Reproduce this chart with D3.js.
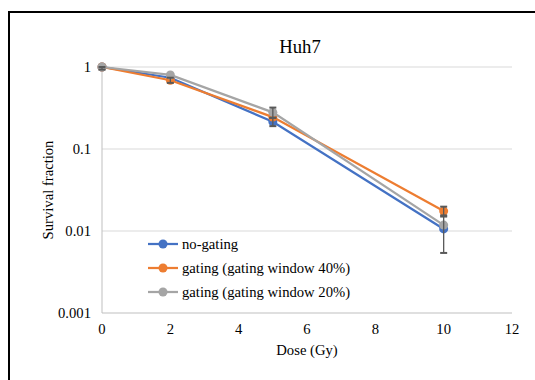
<!DOCTYPE html>
<html>
<head>
<meta charset="utf-8">
<script src="https://cdn.jsdelivr.net/npm/d3@7"></script>
<style>
  body { margin: 0; background: #fff; }
</style>
</head>
<body>
<div id="chart"></div>
<script>
// Survival fraction vs dose for Huh7
const doses = [0, 2, 5, 10];
const seriesNames = ['no-gating', 'gating (gating window 40%)', 'gating (gating window 20%)'];
const seriesColors = ['#4472c4', '#ed7d31', '#a5a5a5'];
const noGating = [1.0, 0.74, 0.215, 0.0106];
const gating40 = [1.0, 0.69, 0.245, 0.0175];
const gating20 = [1.0, 0.80, 0.28, 0.0118];
// error bars [low, high] per point, null when none visible
const errNoGating = [[0.93, 1.0], null, [0.19, 0.24], [0.0054, 0.015]];
const errGating40 = [null, [0.64, 0.74], null, [0.0155, 0.0198]];
const errGating20 = [null, null, [0.24, 0.32], null];
const yTicks = [1, 0.1, 0.01, 0.001];
const xTicks = [0, 2, 4, 6, 8, 10, 12];

(function() {
  const W = 535, H = 380;
  const FONT = "'Liberation Serif'";
  const svg = d3.select('#chart').append('svg')
    .attr('width', W).attr('height', H)
    .style('font-family', FONT);

  // outer frame
  svg.append('rect')
    .attr('x', 9).attr('y', 12)
    .attr('width', W + 10).attr('height', H + 10)
    .attr('fill', 'none').attr('stroke', '#000').attr('stroke-width', 2);

  const x = d3.scaleLinear().domain([0, 12]).range([102, 512]);
  const y = d3.scaleLog().domain([0.001, 1]).range([313, 67]);

  // gridlines
  svg.selectAll('.grid').data(yTicks.filter(d => d > 0.001)).enter()
    .append('line')
    .attr('x1', x(0)).attr('x2', x(12))
    .attr('y1', d => y(d)).attr('y2', d => y(d))
    .attr('stroke', '#d9d9d9').attr('stroke-width', 1);

  // axes lines
  svg.append('line')
    .attr('x1', x(0)).attr('x2', x(12)).attr('y1', y(0.001)).attr('y2', y(0.001))
    .attr('stroke', '#bfbfbf').attr('stroke-width', 1);
  svg.append('line')
    .attr('x1', x(0)).attr('x2', x(0)).attr('y1', y(1)).attr('y2', y(0.001))
    .attr('stroke', '#bfbfbf').attr('stroke-width', 1);

  // tick labels
  svg.selectAll('.ylab').data(yTicks).enter().append('text')
    .attr('x', 91).attr('y', d => y(d) + 5)
    .attr('text-anchor', 'end')
    .style('font-family', FONT).style('font-size', '14.67px')
    .text(d => d3.format('~g')(d));
  svg.selectAll('.xlab').data(xTicks).enter().append('text')
    .attr('x', d => x(d)).attr('y', 334)
    .attr('text-anchor', 'middle')
    .style('font-family', FONT).style('font-size', '14.67px')
    .text(d => d);

  // titles
  svg.append('text').attr('x', 300).attr('y', 53)
    .attr('text-anchor', 'middle').style('font-family', FONT).style('font-size', '18.67px').text('Huh7');
  svg.append('text').attr('x', 307).attr('y', 355)
    .attr('text-anchor', 'middle').style('font-family', FONT).style('font-size', '14.67px').text('Dose (Gy)');
  svg.append('text')
    .attr('transform', 'translate(53,190) rotate(-90)')
    .attr('text-anchor', 'middle').style('font-family', FONT).style('font-size', '14.67px').text('Survival fraction');

  const series = [
    { name: seriesNames[0], color: seriesColors[0], values: noGating, err: errNoGating },
    { name: seriesNames[1], color: seriesColors[1], values: gating40, err: errGating40 },
    { name: seriesNames[2], color: seriesColors[2], values: gating20, err: errGating20 }
  ];

  const line = d3.line().x(d => x(d[0])).y(d => y(d[1]));

  series.forEach(s => {
    const pts = doses.map((d, i) => [d, s.values[i]]);
    svg.append('path')
      .attr('d', line(pts))
      .attr('fill', 'none').attr('stroke', s.color).attr('stroke-width', 2.25);
    svg.selectAll(null).data(pts).enter().append('circle')
      .attr('cx', d => x(d[0])).attr('cy', d => y(d[1])).attr('r', 4.5)
      .attr('fill', s.color);
  });

  // error bars on top
  series.forEach(s => {
    s.err.forEach((e, i) => {
      if (!e) return;
      const cx = x(doses[i]);
      const g = svg.append('g').attr('stroke', '#595959').attr('stroke-width', 1.3);
      g.append('line').attr('x1', cx).attr('x2', cx).attr('y1', y(e[0])).attr('y2', y(e[1]));
      g.append('line').attr('x1', cx - 3.5).attr('x2', cx + 3.5).attr('y1', y(e[0])).attr('y2', y(e[0])).attr('stroke-width', 2);
      g.append('line').attr('x1', cx - 3.5).attr('x2', cx + 3.5).attr('y1', y(e[1])).attr('y2', y(e[1])).attr('stroke-width', 2);
    });
  });

  // legend
  const legend = svg.append('g').attr('transform', 'translate(148,244)');
  const items = legend.selectAll('.item').data(series).enter().append('g')
    .attr('transform', (d, i) => `translate(0, ${i * 24})`);
  items.append('line').attr('x1', 0).attr('x2', 30).attr('y1', 0).attr('y2', 0)
    .attr('stroke', d => d.color).attr('stroke-width', 2.25);
  items.append('circle').attr('cx', 15).attr('cy', 0).attr('r', 4.5)
    .attr('fill', d => d.color);
  items.append('text').attr('x', 34).attr('y', 5)
    .style('font-family', FONT).style('font-size', '14.67px').text(d => d.name);
})();
</script>
</body>
</html>
